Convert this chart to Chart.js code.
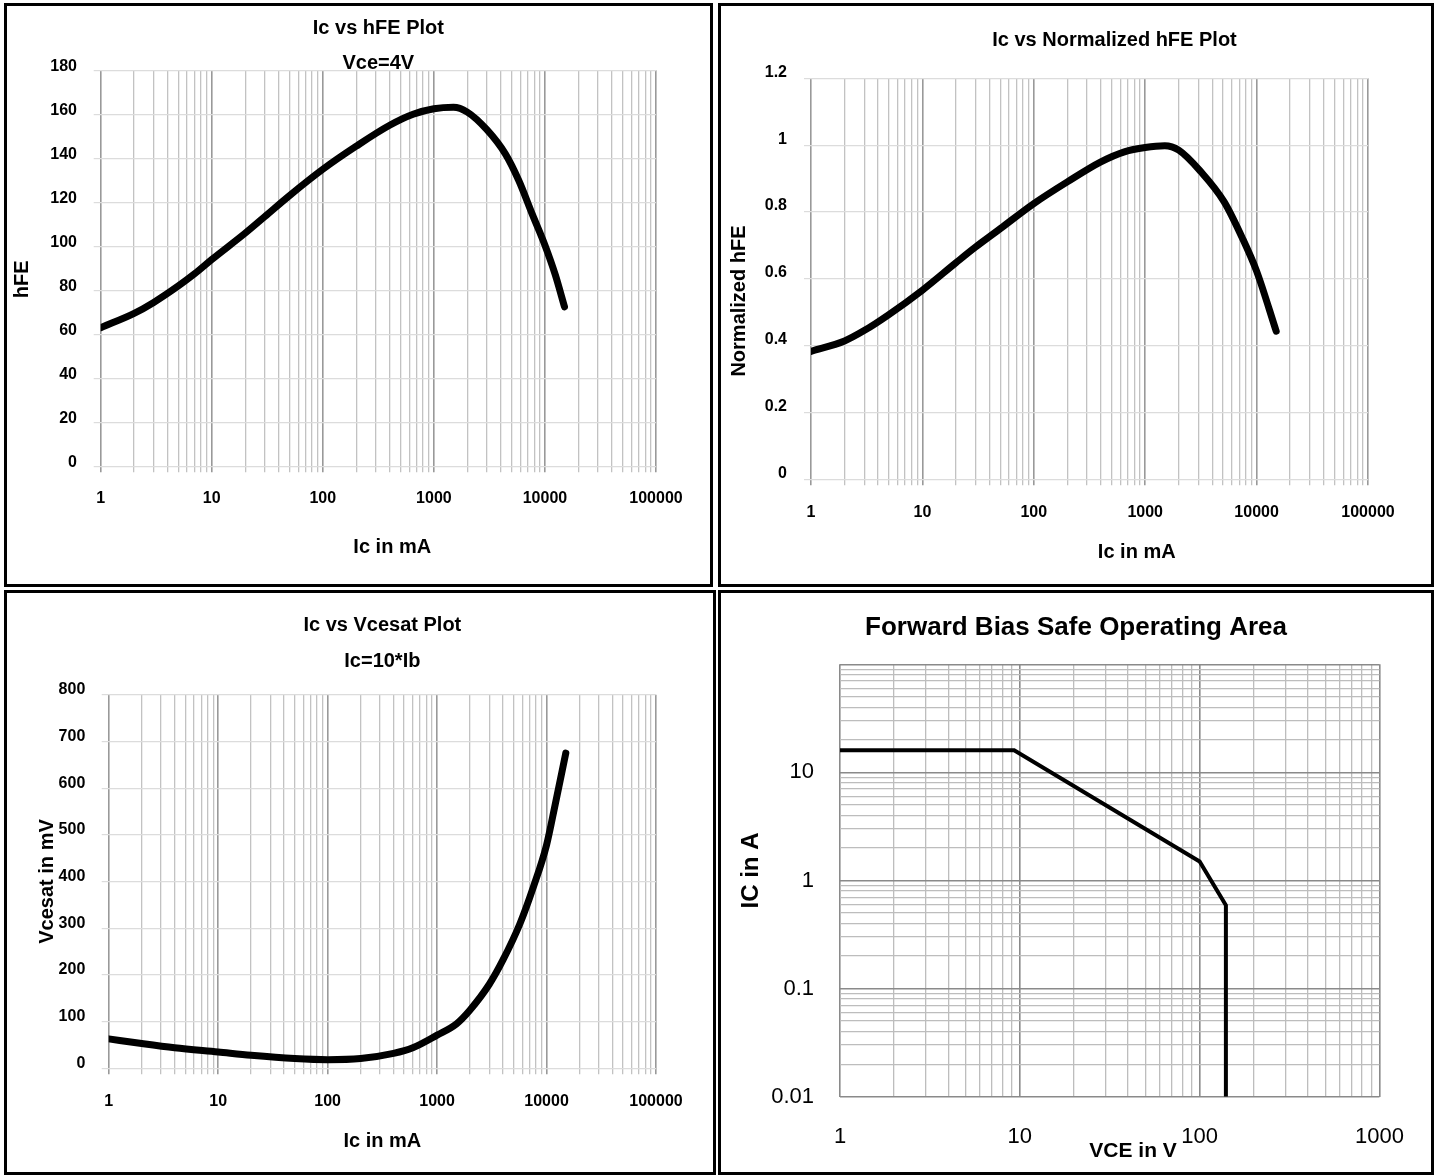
<!DOCTYPE html>
<html>
<head>
<meta charset="utf-8">
<script src="https://cdn.jsdelivr.net/npm/chart.js@4.4.1/dist/chart.umd.min.js"></script>
<style>
  body { margin: 0; background: #fff; }
  .panel { position: absolute; box-sizing: border-box; border: 3px solid #000; background: #fff; }
  .panel canvas { display: block; }
</style>
</head>
<body>
<div class="panel" style="left:4px;top:3px;width:709px;height:584px"><canvas id="hfe" width="703" height="578"></canvas></div>
<div class="panel" style="left:718px;top:3px;width:716px;height:584px"><canvas id="norm" width="710" height="578"></canvas></div>
<div class="panel" style="left:4px;top:590px;width:712px;height:585px"><canvas id="sat" width="706" height="579"></canvas></div>
<div class="panel" style="left:718px;top:590px;width:716px;height:585px"><canvas id="soa" width="710" height="579"></canvas></div>
<script>
// values
const icDecades = [1, 10, 100, 1000, 10000, 100000];
const icLabels = ['1', '10', '100', '1000', '10000', '100000'];

// Ic vs hFE, Vce=4V
const hfeIc = [1, 2, 3, 5, 7, 10, 20, 30, 50, 100, 200, 400, 650, 1000, 1500, 2000, 3000, 4400, 5800, 7700, 10000, 12400, 15000];
const hfeVal = [63, 69.5, 74.5, 82, 87.5, 94, 106, 113.5, 123, 135, 145.5, 155, 160, 162.5, 163.2, 161, 153, 142, 130, 114.5, 100.5, 87, 72.5];
const hfeTicks = [0, 20, 40, 60, 80, 100, 120, 140, 160, 180];

// Ic vs normalized hFE
const normIc = [1, 2, 3, 5, 10, 20, 30, 50, 100, 200, 400, 650, 1000, 1500, 2000, 3150, 5100, 7400, 10000, 15000];
const normVal = [0.383, 0.414, 0.445, 0.493, 0.566, 0.648, 0.695, 0.75, 0.825, 0.89, 0.95, 0.98, 0.993, 0.998, 0.985, 0.921, 0.831, 0.724, 0.623, 0.443];
const normTicks = [0, 0.2, 0.4, 0.6, 0.8, 1, 1.2];

// Ic vs Vcesat, Ic=10*Ib
const satIc = [1, 2, 4, 10, 20, 50, 100, 200, 400, 600, 1000, 1500, 2000, 3000, 4000, 5700, 7600, 10000, 12000, 15000];
const satMv = [63, 53, 44, 35, 28, 21, 18.5, 21, 32, 44, 71, 95, 125, 180, 232, 309, 389, 478, 565, 675];
const satTicks = [0, 100, 200, 300, 400, 500, 600, 700, 800];

// forward bias SOA
const soaVce = [1, 9.3, 100, 140, 140];
const soaIc = [16, 16, 1.5, 0.59, 0.01];
const vceDecades = [1, 10, 100, 1000];
const vceLabels = ['1', '10', '100', '1000'];
const soaIcDecades = [0.01, 0.1, 1, 10, 100];
const soaIcLabels = ['0.01', '0.1', '1', '10', ''];

Chart.defaults.font.family = "'Liberation Sans', Arial, Helvetica, sans-serif";
Chart.defaults.color = '#000';

function decadeIndex(decades, v) {
  return decades.findIndex(d => Math.abs(d - v) < d * 1e-6);
}

// 1..9 per decade, so the grid looks like log paper
function logGrid(decades) {
  const vals = [];
  decades.forEach((d, i) => {
    if (i === decades.length - 1) { vals.push(d); return; }
    for (let k = 1; k <= 9; k++) vals.push(d * k);
  });
  return vals;
}

function logAxis(decades, labels, o) {
  return {
    type: 'logarithmic',
    min: decades[0],
    max: decades[decades.length - 1],
    afterBuildTicks: s => { s.ticks = logGrid(decades).map(v => ({ value: v })); },
    afterFit: s => { if (o.height) s.height = o.height; if (o.width) s.width = o.width; },
    border: { display: false },
    grid: {
      drawTicks: o.tickLength > 0,
      tickLength: o.tickLength,
      color: c => decadeIndex(decades, c.tick.value) >= 0 ? o.major : o.minor,
      lineWidth: c => decadeIndex(decades, c.tick.value) >= 0 ? 1.6 : 1.3,
    },
    ticks: {
      autoSkip: false, maxRotation: 0, minRotation: 0,
      padding: o.pad,
      labelOffset: o.labelOffset || 0,
      font: o.tickFont,
      callback: v => { const i = decadeIndex(decades, v); return i < 0 ? '' : labels[i]; },
    },
    title: o.title,
  };
}

function excelChart(id, o) {
  return new Chart(document.getElementById(id), {
    type: 'scatter',
    data: {
      datasets: [{
        data: o.xs.map((x, i) => ({ x: x, y: o.ys[i] })),
        showLine: true,
        borderColor: '#000',
        borderWidth: 7,
        pointRadius: 0,
        cubicInterpolationMode: 'monotone',
        borderCapStyle: 'round',
        borderJoinStyle: 'round',
      }],
    },
    options: {
      responsive: false,
      animation: false,
      events: [],
      layout: { padding: { left: 0, top: 0, right: o.padRight, bottom: 0 } },
      plugins: {
        legend: { display: false },
        tooltip: { enabled: false },
        title: {
          display: true, text: o.title, fullSize: false, color: '#000',
          font: { size: 20, weight: 'bold' },
          padding: o.titlePad,
        },
        subtitle: {
          display: !!o.subtitle, text: o.subtitle || '', fullSize: false, color: '#000',
          font: { size: 20, weight: 'bold', lineHeight: o.subLine || 1.2 },
          padding: o.subPad || 0,
        },
      },
      scales: {
        x: logAxis(icDecades, icLabels, {
          height: o.xHeight, tickLength: 6, pad: o.xPad,
          major: '#999999', minor: '#c2c2c2',
          tickFont: { size: 16, weight: 'bold' },
          title: { display: true, text: o.xTitle, font: { size: 20, weight: 'bold' }, padding: { top: 0, bottom: o.xTitlePad } },
        }),
        y: {
          min: o.yTicks[0],
          max: o.yTicks[o.yTicks.length - 1],
          afterBuildTicks: s => { s.ticks = o.yTicks.map(v => ({ value: v })); },
          afterFit: s => { s.width = o.yWidth; },
          border: { display: false },
          grid: { color: '#dcdcdc', lineWidth: 1.2, tickLength: 7 },
          ticks: {
            padding: o.yPad, labelOffset: o.yLabelOffset,
            font: { size: 16, weight: 'bold' },
            callback: v => String(v),
          },
          title: { display: true, text: o.yTitle, font: { size: 20, weight: 'bold' }, padding: { top: o.yTitlePad, bottom: 0 } },
        },
      },
    },
  });
}

excelChart('hfe', {
  xs: hfeIc, ys: hfeVal, yTicks: hfeTicks,
  title: 'Ic vs hFE Plot', titlePad: { top: 10.7, bottom: 0 },
  subtitle: 'Vce=4V', subLine: 0.6, subPad: { top: 17.2, bottom: 0.4 },
  padRight: 54, yWidth: 93.7, xHeight: 117.7,
  yPad: 16.7, yLabelOffset: -4, yTitle: 'hFE    ', yTitlePad: 3.7,
  xPad: 17.1, xTitle: '     Ic in mA', xTitlePad: 25,
});

excelChart('norm', {
  xs: normIc, ys: normVal, yTicks: normTicks,
  title: '         Ic vs Normalized hFE Plot', titlePad: { top: 22.3, bottom: 26 },
  padRight: 63, yWidth: 90, xHeight: 104.7,
  yPad: 17, yLabelOffset: -6, yTitle: 'Normalized hFE        ', yTitlePad: 6.8,
  xPad: 17.4, xTitle: '                 Ic in mA', xTitlePad: 19.3,
});

excelChart('sat', {
  xs: satIc, ys: satMv, yTicks: satTicks,
  title: 'Ic vs Vcesat Plot', titlePad: { top: 20, bottom: 0 },
  subtitle: 'Ic=10*Ib', subPad: { top: 12, bottom: 21.7 },
  padRight: 57, yWidth: 101.7, xHeight: 103.7,
  yPad: 16.4, yLabelOffset: -5, yTitle: 'Vcesat in mV', yTitlePad: 28.7,
  xPad: 17.6, xTitle: 'Ic in mA', xTitlePad: 18.3,
});

new Chart(document.getElementById('soa'), {
  type: 'scatter',
  data: {
    datasets: [{
      data: soaVce.map((x, i) => ({ x: x, y: soaIc[i] })),
      showLine: true,
      borderColor: '#000',
      borderWidth: 4,
      pointRadius: 0,
      tension: 0,
    }],
  },
  options: {
    responsive: false,
    animation: false,
    events: [],
    layout: { padding: { left: 0, top: 0, right: 43.3, bottom: 0 } },
    plugins: {
      legend: { display: false },
      tooltip: { enabled: false },
      title: {
        display: true, text: '      Forward Bias Safe Operating Area', color: '#000',
        font: { size: 26, weight: 'bold' },
        padding: { top: 18.9, bottom: 21.2 },
      },
    },
    scales: {
      x: logAxis(vceDecades, vceLabels, {
        height: 75.3, tickLength: 0, pad: 27.1,
        major: '#8a8a8a', minor: '#bdbdbd',
        tickFont: { size: 22, weight: 'normal' },
        title: { display: true, text: '        VCE in V', font: { size: 21, weight: 'bold' }, padding: { top: 0, bottom: 8.4 } },
      }),
      y: logAxis(soaIcDecades, soaIcLabels, {
        width: 119, tickLength: 0, pad: 26,
        major: '#8a8a8a', minor: '#bdbdbd',
        tickFont: { size: 22, weight: 'normal' },
        title: { display: true, text: '   IC in A', font: { size: 24, weight: 'bold' }, padding: { top: 15.6, bottom: 0 } },
      }),
    },
  },
});
</script>
</body>
</html>
